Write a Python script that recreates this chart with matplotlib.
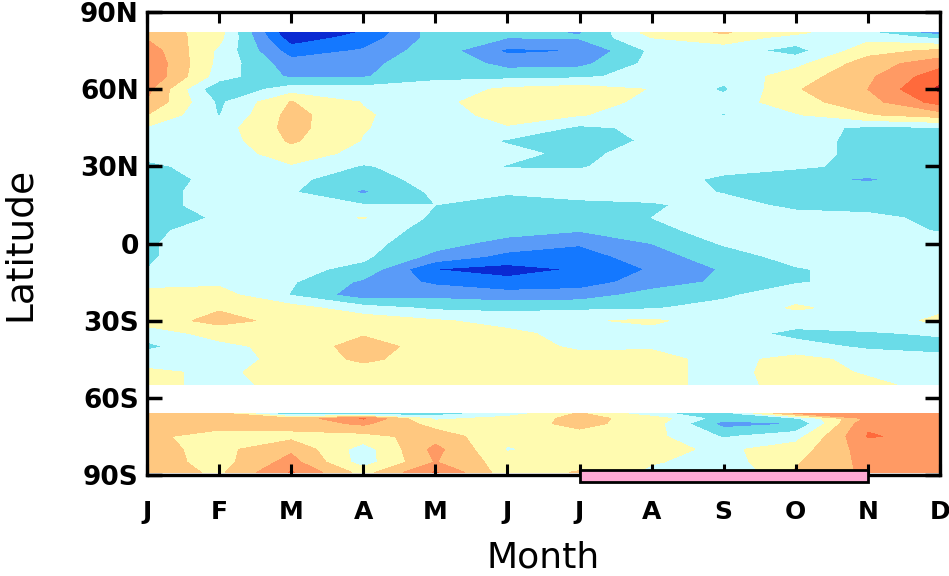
import matplotlib.pyplot as plt
import numpy as np
from matplotlib.patches import Rectangle

# month labels along x, latitude ticks along y
months = ['J', 'F', 'M', 'A', 'M', 'J', 'J', 'A', 'S', 'O', 'N', 'D']
lat_ticks = [-90, -60, -30, 0, 30, 60, 90]
lat_labels = ['90S', '60S', '30S', '0', '30N', '60N', '90N']

# anomaly field, rows = latitude (north to south), columns = Jan..Dec
lats_main = [82, 80, 75, 70, 65, 60, 55, 50, 45, 40, 35, 30, 25, 20, 15, 10, 5, 0,
             -5, -10, -15, -20, -25, -30, -35, -40, -45, -50, -55]
anom_main = [
    [1.7, 0.4, -5.0, -3.9, -1.5, -1.6, -2.1, 0.4, 1.1, 0.2, -0.8, -2.6],
    [1.9, 0.3, -4.6, -3.6, -1.6, -2.0, -1.9, 0.0, 0.5, -0.4, -0.3, -1.2],
    [2.6, -0.2, -3.5, -2.9, -1.4, -3.2, -3.0, -0.8, -0.5, -1.4, 0.6, 1.2],
    [2.9, -0.3, -2.6, -2.4, -1.1, -2.4, -2.3, -0.7, -0.6, -0.3, 1.5, 2.6],
    [2.9, -0.5, -2.2, -2.1, -1.2, -1.3, -1.2, -0.6, -0.7, 0.5, 1.8, 3.6],
    [2.3, -1.9, -0.5, -0.6, -0.6, 0.2, 0.5, -0.05, -1.15, 0.9, 2.0, 4.2],
    [1.9, -1.2, 1.05, -0.05, -0.3, 0.6, 0.5, -0.3, -0.6, 0.6, 1.6, 3.4],
    [1.0, -1.05, 1.35, 0.1, -0.5, 0.4, 0.05, -0.4, -1.05, -0.1, 0.9, 1.5],
    [-0.1, -0.5, 1.35, 0.05, -0.5, -0.1, -1.2, -0.8, -0.5, -0.6, -1.2, -1.1],
    [-0.5, -0.6, 1.15, -0.05, -0.4, -1.1, -1.5, -0.85, -0.4, -0.6, -1.3, -1.4],
    [-0.7, -0.6, 0.5, -0.3, -0.5, -0.7, -1.3, -0.5, -0.4, -0.6, -1.3, -1.4],
    [-1.2, -0.6, -0.1, -1.1, -0.5, -1.05, -1.1, -0.4, -0.6, -0.8, -1.3, -1.5],
    [-1.5, -0.7, -0.8, -1.5, -0.6, -0.6, -0.6, -0.5, -1.2, -1.8, -2.1, -1.6],
    [-1.3, -0.7, -0.9, -2.15, -0.8, -0.75, -0.7, -0.6, -1.05, -1.5, -1.6, -1.4],
    [-1.3, -0.7, -0.5, -0.95, -1.0, -2.05, -1.2, -1.1, -0.7, -1.2, -1.3, -1.3],
    [-1.5, -0.9, -0.6, 0.05, -1.2, -1.5, -1.4, -1.0, -0.5, -0.7, -0.8, -1.2],
    [-1.2, -0.6, -0.6, -0.6, -1.3, -1.6, -1.95, -1.3, -0.6, -0.5, -0.7, -1.05],
    [-1.1, -0.5, -0.6, -0.7, -1.6, -2.4, -2.9, -2.0, -0.9, -0.5, -0.6, -0.6],
    [-1.1, -0.5, -0.6, -0.8, -2.3, -3.3, -3.5, -2.4, -1.5, -0.6, -0.5, -0.5],
    [-1.0, -0.5, -0.7, -1.3, -4.02, -4.4, -3.9, -2.9, -1.9, -1.1, -0.6, -0.5],
    [-0.3, -0.2, -0.9, -2.2, -3.2, -3.7, -3.5, -2.5, -1.8, -1.1, -0.6, -0.5],
    [0.3, 0.4, -1.05, -2.6, -2.3, -2.6, -2.5, -1.6, -1.2, -0.3, -0.4, -0.4],
    [0.5, 0.9, 0.4, -0.6, -1.2, -1.3, -1.2, -1.1, -0.6, 0.1, -0.3, -0.2],
    [0.5, 1.3, 0.7, 0.6, 0.1, -0.3, -0.1, 0.15, -0.5, -0.5, -0.5, 0.2],
    [-0.6, 0.4, 0.6, 0.9, 0.6, 0.2, -0.3, -0.3, -0.5, -1.3, -1.1, -0.9],
    [-1.2, -0.3, 0.4, 1.4, 0.6, 0.5, -0.2, -0.1, -0.4, -0.6, -1.2, -1.3],
    [-0.5, -0.4, 0.3, 1.2, 0.5, 0.5, 0.4, 0.3, -0.3, 0.3, -0.3, -0.7],
    [0.2, -0.2, 0.4, 0.5, 0.4, 0.4, 0.4, 0.3, -0.3, 0.4, -0.1, -0.5],
    [0.3, -0.3, 0.3, 0.3, 0.3, 0.3, 0.2, 0.3, -0.3, 0.3, 0.2, -0.3],
]

# antarctic block (no data between ~55S and ~66S)
lats_south = [-66, -68, -70, -75, -80, -85, -89]
anom_south = [
    [1.3, 1.2, -2.1, -2.3, -1.5, -0.6, 1.1, -0.8, -1.5, 2.1, 2.5, 2.5],
    [1.5, 1.4, 1.3, 3.1, -0.3, 0.4, 1.3, 0.6, -1.6, -1.2, 2.2, 2.7],
    [1.6, 1.4, 1.4, 2.2, 0.6, 0.5, 1.3, 0.5, -2.4, -2.0, 2.9, 2.8],
    [1.2, 0.6, 0.7, 0.6, 1.5, 0.3, 0.6, 0.3, -1.1, -0.4, 3.05, 2.8],
    [1.3, 0.7, 1.8, -0.5, 2.3, -0.1, 0.5, 0.3, -0.2, 0.5, 2.5, 2.7],
    [1.5, 0.6, 2.4, -0.5, 2.05, 0.5, 0.5, 0.1, -0.5, 0.9, 2.3, 2.6],
    [1.6, 0.8, 3.1, 0.6, 3.1, 0.4, 1.1, -0.3, -1.1, 1.1, 2.2, 2.5],
]

levels = [-10, -4, -3, -2, -1, 0, 1, 2, 3, 4, 10]
colors = ['#0a2ad2', '#1478ff', '#5a9bf8', '#6adce8', '#d0fdff',
          '#fffbb0', '#ffc880', '#ff9a64', '#ff6a3c', '#c0202a']

# highlighted season (Jul - Nov)
season = (6, 10)

fig = plt.figure(figsize=(9.49, 5.76), dpi=100)
ax = fig.add_axes([0.1549, 0.1753, 0.8356, 0.8038])

x = np.arange(len(months))
ax.contourf(x, lats_main, anom_main, levels=levels, colors=colors)
ax.contourf(x, lats_south, anom_south, levels=levels, colors=colors)

ax.set_xlim(0, 11)
ax.set_ylim(-90, 90)
ax.set_xticks(x)
ax.set_xticklabels(months, fontsize=18, fontweight='bold')
ax.set_yticks(lat_ticks)
ax.set_yticklabels(lat_labels, fontsize=19, fontweight='bold')
ax.tick_params(axis='x', direction='in', top=True, length=8, width=2.2, pad=18)
ax.tick_params(axis='y', direction='in', right=True, length=11, width=2.5, pad=6)
for s in ax.spines.values():
    s.set_linewidth(2.4)

ax.set_xlabel('Month', fontsize=26, labelpad=12)
ax.set_ylabel('Latitude', fontsize=27, labelpad=30)

# pink bar marking the season under the axis
ax.add_patch(Rectangle((season[0], -92.7), season[1] - season[0], 4.6,
                       facecolor='#ffaad4', edgecolor='black', linewidth=2,
                       clip_on=False, zorder=5))

fig.savefig('out.png', dpi=100)
